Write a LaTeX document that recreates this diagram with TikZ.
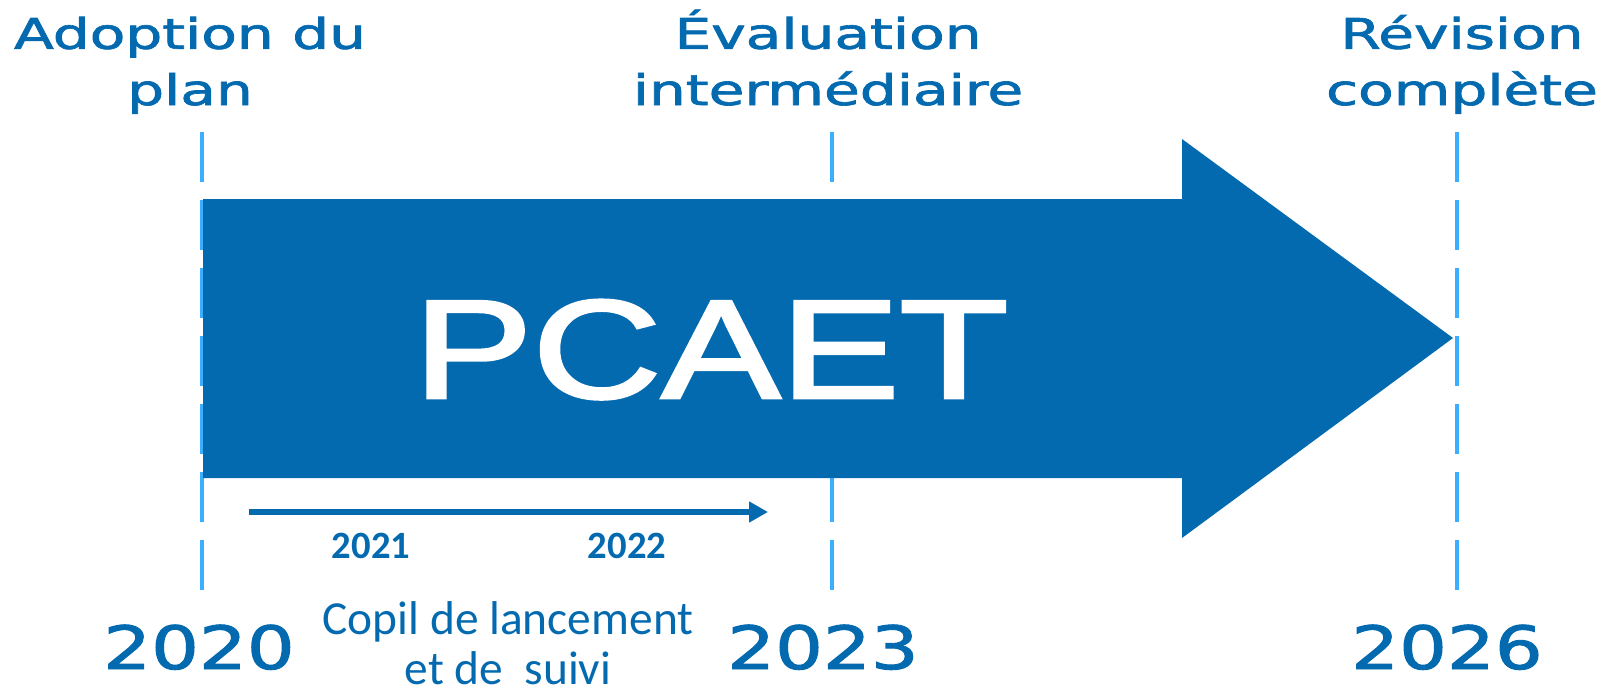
\documentclass[tikz,border=0pt]{standalone}
\usepackage{fontspec}
\usepackage{graphicx}
\usetikzlibrary{arrows.meta}
\setmainfont[FakeBold=1.5]{DejaVu Sans}
\newfontfamily\pcaetfont[FakeBold=2]{Liberation Sans}
\newfontfamily\copilfont{Carlito}

\definecolor{pcaetblue}{RGB}{4,106,176}
\definecolor{dashblue}{RGB}{60,174,255}

\newcommand{\widetext}[2][1.26]{\scalebox{#1}[1]{#2}}

\tikzset{
  milestone/.style={text=pcaetblue, font=\fontsize{24}{32}\selectfont,
    align=center, anchor=base, inner sep=0pt},
  yearlabel/.style={text=pcaetblue, font=\fontsize{34}{40}\selectfont,
    anchor=base, inner sep=0pt},
  smallyear/.style={text=pcaetblue, font=\copilfont\bfseries\fontsize{22}{26}\selectfont,
    anchor=base, inner sep=0pt},
  timeline/.style={dashblue, line width=2pt, dash pattern=on 1cm off 0.36cm},
}

\begin{document}
\begin{tikzpicture}[x=0.02cm, y=-0.02cm]
  \useasboundingbox (0,0) rectangle (1606,691);

  % The three dashed milestone lines.
  \foreach \name/\xpos in {start/202, mid/832, stop/1457}{
    \coordinate (\name top) at (\xpos,132);
    \coordinate (\name bottom) at (\xpos,590);
    \draw[timeline] (\name top) -- (\name bottom);
  }

  % The big arrow of the plan.
  \fill[pcaetblue] (203,199) -- (1182,199) -- (1182,139) -- (1453,338)
  -- (1182,538) -- (1182,478) -- (203,478) -- cycle;
  \node[text=white, font=\pcaetfont\fontsize{80}{90}\selectfont,
  anchor=base, inner sep=0pt] (pcaet) at (711,398) {\scalebox{1.27}[1]{PCAET}};

  % Labels above the milestones (anchored on the second line).
  \node[milestone] (adoption) at (190,105)
  {\widetext[1.38]{Adoption du}\\\widetext[1.38]{plan}};
  \node[milestone] (evaluation) at (828,105)
  {\widetext[1.38]{Évaluation}\\\widetext[1.38]{intermédiaire}};
  \node[milestone] (revision) at (1462,105)
  {\widetext[1.38]{Révision}\\\widetext[1.38]{complète}};

  % Years below the milestones.
  \node[yearlabel] (y2020) at (199,669) {\widetext{2020}};
  \node[yearlabel] (y2023) at (823,669) {\widetext{2023}};
  \node[yearlabel] (y2026) at (1447,669) {\widetext{2026}};

  % The steering committee arrow.
  \coordinate (kickoff) at (249,512);
  \coordinate (followup) at (768,512);
  \draw[pcaetblue, line width=3.4pt, -{Triangle[length=0.38cm, width=0.4cm]}]
  (kickoff) -- (followup);
  \node[smallyear] (y2021) at (371,558) {2021};
  \node[smallyear] (y2022) at (627,558) {2022};
  \node[text=pcaetblue, font=\copilfont\fontsize{27}{27.9}\selectfont,
  align=center, anchor=base, inner sep=0pt] (copil) at (508,684)
  {Copil de lancement\\et de~ suivi};
\end{tikzpicture}
\end{document}
